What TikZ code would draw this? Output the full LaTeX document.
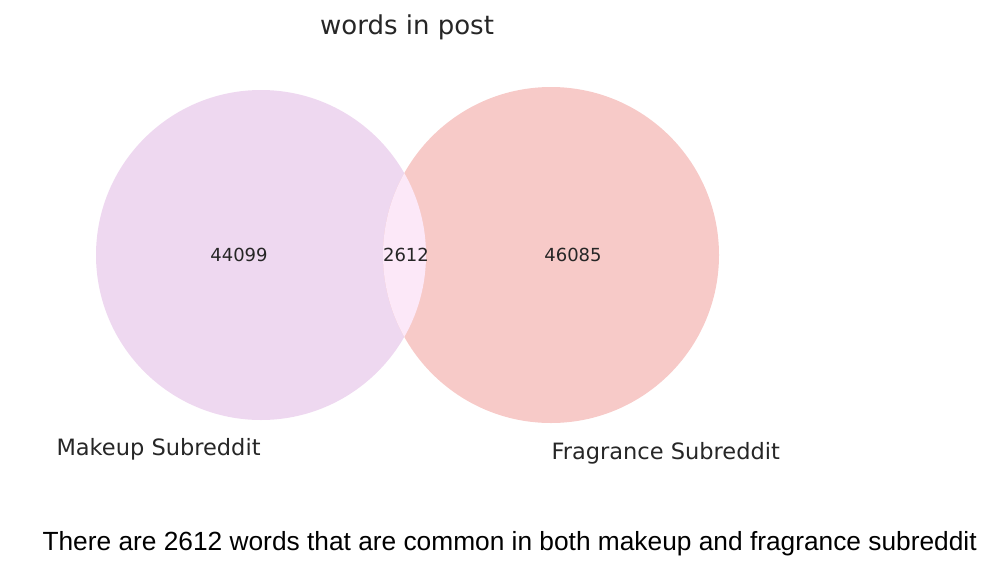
\documentclass[tikz,border=0pt]{standalone}
\usepackage{fontspec}
\setmainfont{Liberation Sans}
\newfontfamily\vennfont{DejaVu Sans}
\usepackage{tikz}
\usetikzlibrary{positioning,calc}
\definecolor{makeupc}{RGB}{238,216,240}
\definecolor{fragc}{RGB}{247,202,200}
\definecolor{bothc}{RGB}{252,232,248}

\begin{document}
\begin{tikzpicture}[x=1pt,y=-1pt,font=\vennfont]
\tikzset{set/.style={circle,inner sep=0pt,draw=none},
  count/.style={font=\vennfont\fontsize{18}{20}\selectfont,text=black!85},
  setlabel/.style={font=\vennfont\fontsize{22.5}{25}\selectfont,text=black!85,anchor=west}}
\useasboundingbox (0,0) rectangle (998,579);
\node[set,fill=makeupc,minimum size=330pt] (makeup) at (261,255) {};
\node[set,fill=fragc,minimum size=336pt] (frag) at (551,255) {};
\begin{scope}
\clip (makeup.center) circle[radius=165pt];
\fill[bothc] (frag.center) circle[radius=168pt];
\end{scope}
\node[count] (only1) at (239,255) {44099};
\node[count] (inter) at (406,255) {2612};
\node[count] (only2) at (573,255) {46085};
\node[font=\vennfont\fontsize{26}{28}\selectfont,text=black!85] (title) at (407,27) {words in post};
\node[setlabel] (lab1) at (53,449) {Makeup Subreddit};
\node[setlabel] (lab2) at (548,453) {Fragrance Subreddit};
\node[font=\fontsize{26.3}{28}\selectfont,anchor=west] (note) at (39,544) {There are 2612 words that are common in both makeup and fragrance subreddit};
\end{tikzpicture}
\end{document}
